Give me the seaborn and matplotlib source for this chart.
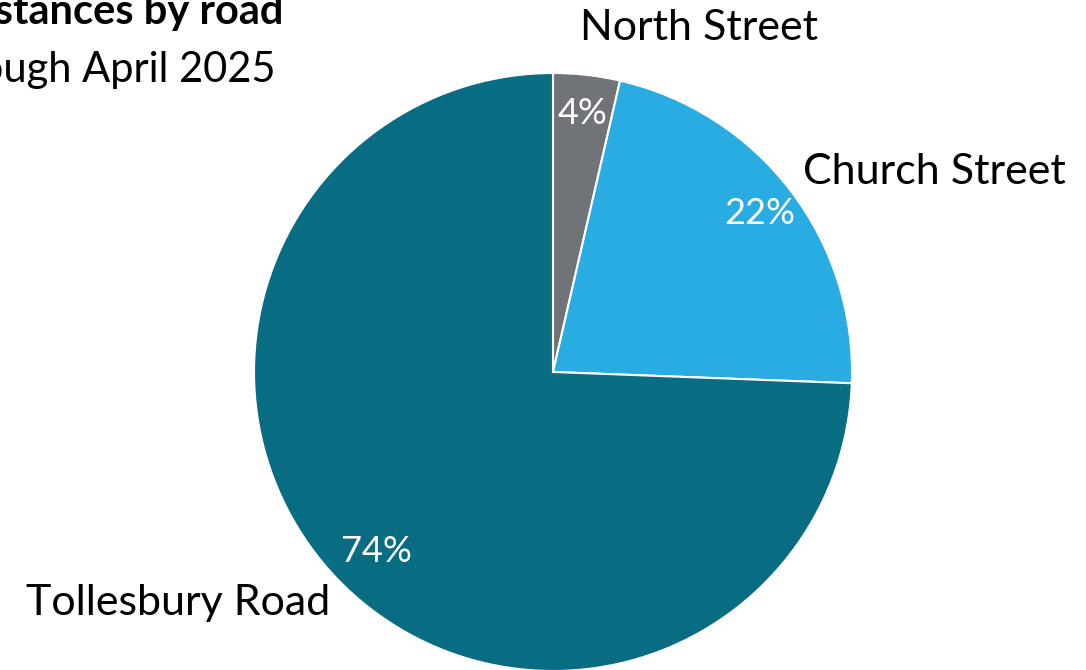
import matplotlib
matplotlib.use("Agg")
import matplotlib.pyplot as plt
import seaborn as sns

# share of instances by road (percent)
roads = ["North Street", "Church Street", "Tollesbury Road"]
shares = [3.6, 22.0, 74.4]
colours = ["#707377", "#29ACE1", "#086C83"]
title_line1 = "Speeding instances by road"
title_line2 = "May 2024 through April 2025"

sns.set_theme(style="white")
plt.rcParams["font.family"] = ["Lato", "DejaVu Sans"]
plt.rcParams["text.color"] = "black"

fig = plt.figure(figsize=(10.86, 6.70), dpi=100)
ax = fig.add_axes([0, 0, 1, 1])

wedges, texts, autotexts = ax.pie(
    shares, labels=roads, colors=colours, startangle=90, counterclock=False,
    autopct=lambda p: f"{p:.0f}%", pctdistance=0.87, labeldistance=1.08,
    wedgeprops=dict(edgecolor="white", linewidth=1.5),
    textprops=dict(fontsize=31, color="black"))

for t in autotexts:
    t.set_color("white")
    t.set_fontsize(26)

# label placement (pie radius = 1)
label_pos = [(0.09, 1.15, "left"), (0.836, 0.669, "left"), (-0.746, -0.773, "right")]
for t, (x, y, ha) in zip(texts, label_pos):
    t.set_position((x, y))
    t.set_ha(ha)
    t.set_va("center")
autotexts[2].set_position((-0.59, -0.60))

ax.set_aspect("equal")
ax.set_xlim(-553 / 299, (1086 - 553) / 299)
ax.set_ylim(-(670 - 372) / 299, 372 / 299)
ax.axis("off")

fig.text(283 / 1086, 1 - 12 / 670, title_line1, ha="right", va="center",
         fontsize=30, fontweight="bold", color="black")
fig.text(276 / 1086, 1 - 70 / 670, title_line2, ha="right", va="center",
         fontsize=30, color="black")

fig.savefig("out.png", dpi=100)
